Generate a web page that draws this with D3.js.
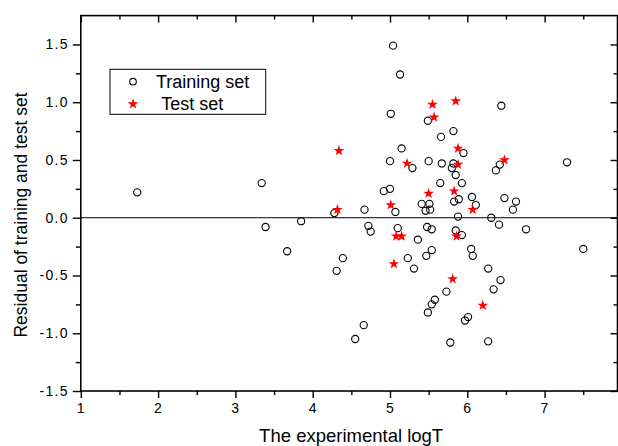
<!DOCTYPE html>
<html>
<head>
<meta charset="utf-8">
<script src="https://cdn.jsdelivr.net/npm/d3@7"></script>
<style>
  html, body { margin: 0; padding: 0; background: #fff; }
  svg { display: block; font-family: "Liberation Sans", Arial, sans-serif; }
  .tick text { font-size: 14px; letter-spacing: 1.3px; fill: #000; }
</style>
</head>
<body>
<svg id="chart" width="618" height="446"></svg>
<script>
// Residuals of the training set (logT, residual)
const trainX = [1.73, 3.34, 3.39, 3.67, 3.85, 5.04, 5.13, 5.01, 5.49, 6.44, 5.82, 5.66, 5.15, 5.95,
  5.00, 5.50, 5.67, 5.82, 5.80, 5.29, 6.37, 6.42, 7.29, 5.85, 5.65, 5.93, 5.00, 4.92, 6.06, 5.89,
  6.48, 6.63, 5.83, 6.11, 6.59, 5.41, 5.51, 5.46, 5.52, 4.67, 5.07, 4.28, 5.88, 6.31, 4.72, 4.75,
  5.10, 5.48, 5.54, 5.85, 5.93, 6.41, 6.76, 5.36, 4.39, 4.31, 5.23, 5.31, 5.54, 5.47, 6.05, 6.07,
  7.50, 6.27, 6.43, 6.34, 5.73, 5.58, 5.54, 5.49, 6.01, 5.97, 4.66, 4.55, 5.78, 6.27];
const trainY = [0.22, 0.30, -0.08, -0.29, -0.03, 1.49, 1.24, 0.90, 0.84, 0.97, 0.75, 0.70, 0.60, 0.56,
  0.49, 0.49, 0.47, 0.47, 0.43, 0.43, 0.41, 0.46, 0.48, 0.37, 0.30, 0.30, 0.25, 0.23, 0.18, 0.16,
  0.17, 0.14, 0.14, 0.11, 0.07, 0.12, 0.12, 0.06, 0.07, 0.07, 0.05, 0.04, 0.01, 0.00, -0.07, -0.12,
  -0.09, -0.08, -0.10, -0.11, -0.15, -0.06, -0.10, -0.19, -0.35, -0.46, -0.35, -0.44, -0.28, -0.33, -0.27, -0.33,
  -0.27, -0.44, -0.54, -0.62, -0.64, -0.71, -0.75, -0.82, -0.86, -0.89, -0.93, -1.05, -1.08, -1.07];

// Residuals of the test set
const testX = [5.55, 5.85, 5.57, 4.34, 5.88, 5.22, 5.88, 6.48, 5.50, 5.83, 5.01, 4.32, 6.07,
  5.08, 5.15, 5.86, 5.05, 5.81, 6.20];
const testY = [0.98, 1.01, 0.87, 0.58, 0.60, 0.47, 0.46, 0.50, 0.21, 0.23, 0.11, 0.07, 0.07,
  -0.16, -0.16, -0.16, -0.40, -0.53, -0.76];

const xMajor = [1, 2, 3, 4, 5, 6, 7];
const xMinor = [1.5, 2.5, 3.5, 4.5, 5.5, 6.5, 7.5];
const yMajor = [-1.5, -1.0, -0.5, 0.0, 0.5, 1.0, 1.5];
const yMinor = [-1.25, -0.75, -0.25, 0.25, 0.75, 1.25];

const xTitle = "The experimental logT";
const yTitle = "Residual of training and test set";
const legendLabels = ["Training set", "Test set"];

const svg = d3.select("#chart");
const plotL = 80.8, plotR = 617.5, plotT = 15.6, plotB = 391;

const x = d3.scaleLinear().domain([1, 7.943]).range([plotL, plotR]);
const y = d3.scaleLinear().domain([-1.5, 1.75]).range([plotB, plotT]);

const fmtY = d => d.toFixed(1);
const fmtX = d => String(d);

// minor ticks (no labels)
function minorAxis(axis, vals, size) {
  return axis.tickValues(vals).tickSize(size).tickFormat("");
}

// bottom axis
svg.append("g").attr("transform", `translate(0,${plotB})`)
  .call(d3.axisBottom(x).tickValues(xMajor).tickSize(7).tickPadding(5).tickFormat(fmtX))
  .call(g => g.select(".domain").remove());
svg.append("g").attr("transform", `translate(0,${plotB})`)
  .call(minorAxis(d3.axisBottom(x), xMinor, 4))
  .call(g => g.select(".domain").remove());

// top axis (inward ticks)
svg.append("g").attr("transform", `translate(0,${plotT})`)
  .call(d3.axisTop(x).tickValues(xMajor).tickSize(-7).tickFormat(""))
  .call(g => g.select(".domain").remove());
svg.append("g").attr("transform", `translate(0,${plotT})`)
  .call(minorAxis(d3.axisTop(x), xMinor, -4))
  .call(g => g.select(".domain").remove());

// left axis
svg.append("g").attr("transform", `translate(${plotL},0)`)
  .call(d3.axisLeft(y).tickValues(yMajor).tickSize(8).tickPadding(4).tickFormat(fmtY))
  .call(g => g.select(".domain").remove());
svg.append("g").attr("transform", `translate(${plotL},0)`)
  .call(minorAxis(d3.axisLeft(y), yMinor, 5))
  .call(g => g.select(".domain").remove());

// right axis (inward ticks)
svg.append("g").attr("transform", `translate(${plotR},0)`)
  .call(d3.axisRight(y).tickValues(yMajor).tickSize(-7).tickFormat(""))
  .call(g => g.select(".domain").remove());
svg.append("g").attr("transform", `translate(${plotR},0)`)
  .call(minorAxis(d3.axisRight(y), yMinor, -4))
  .call(g => g.select(".domain").remove());

svg.selectAll(".tick line").attr("stroke", "#000").attr("stroke-width", 1.4);

// frame
svg.append("rect")
  .attr("x", plotL).attr("y", plotT)
  .attr("width", plotR - plotL).attr("height", plotB - plotT)
  .attr("fill", "none").attr("stroke", "#000").attr("stroke-width", 1.6);

// zero reference line
svg.append("line")
  .attr("x1", plotL).attr("x2", plotR)
  .attr("y1", y(0)).attr("y2", y(0))
  .attr("stroke", "#000").attr("stroke-width", 1);

// training points
const trainData = trainX.map((v, i) => [v, trainY[i]]);
svg.append("g").selectAll("circle").data(trainData).join("circle")
  .attr("cx", d => x(d[0])).attr("cy", d => y(d[1]))
  .attr("r", 3.6)
  .attr("fill", "none").attr("stroke", "#000").attr("stroke-width", 1.1);

// test points
const star = d3.symbol().type(d3.symbolStar).size(36);
const testData = testX.map((v, i) => [v, testY[i]]);
svg.append("g").selectAll("path").data(testData).join("path")
  .attr("d", star)
  .attr("transform", d => `translate(${x(d[0])},${y(d[1])})`)
  .attr("fill", "#ff0000");

// legend
const lg = svg.append("g");
lg.append("rect").attr("x", 110).attr("y", 69.3).attr("width", 155.7).attr("height", 45)
  .attr("fill", "#fff").attr("stroke", "#000").attr("stroke-width", 1);
lg.append("circle").attr("cx", 133).attr("cy", 81.7).attr("r", 3.3)
  .attr("fill", "none").attr("stroke", "#000").attr("stroke-width", 1.1);
lg.append("path").attr("d", star).attr("transform", "translate(133,104)").attr("fill", "#ff0000");
lg.append("text").attr("x", 156).attr("y", 88.3).attr("font-size", 18).text(legendLabels[0]);
lg.append("text").attr("x", 161.3).attr("y", 110.3).attr("font-size", 18).text(legendLabels[1]);

// axis titles
svg.append("text")
  .attr("x", (plotL + plotR) / 2 + 2).attr("y", 442)
  .attr("text-anchor", "middle").attr("font-size", 18.5)
  .text(xTitle);
svg.append("text")
  .attr("transform", `translate(27,${215}) rotate(-90)`)
  .attr("text-anchor", "middle").attr("font-size", 17.5)
  .text(yTitle);
</script>
</body>
</html>
